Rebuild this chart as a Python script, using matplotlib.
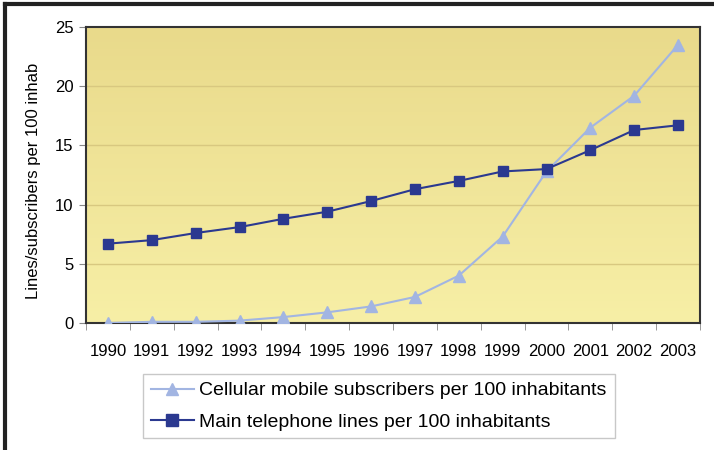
import matplotlib.pyplot as plt
import numpy as np
from matplotlib.colors import LinearSegmentedColormap
from matplotlib.lines import Line2D

plt.rcParams['font.family'] = ['Liberation Sans', 'DejaVu Sans']

years = ['1990', '1991', '1992', '1993', '1994', '1995', '1996',
         '1997', '1998', '1999', '2000', '2001', '2002', '2003']
cellular = [0.0, 0.1, 0.1, 0.2, 0.5, 0.9, 1.4, 2.2, 4.0, 7.3, 12.8, 16.5, 19.2, 23.5]
main_lines = [6.7, 7.0, 7.6, 8.1, 8.8, 9.4, 10.3, 11.3, 12.0, 12.8, 13.0, 14.6, 16.3, 16.7]

fig = plt.figure(figsize=(7.14, 4.5), dpi=100)
ax = fig.add_axes([86 / 714, 1 - 323 / 450, 614 / 714, 296 / 450])

# yellow vertical gradient behind the plot
grad = np.linspace(0, 1, 256).reshape(-1, 1)
cmap = LinearSegmentedColormap.from_list('bg', ['#F7EFA6', '#E9DA8B'])
ax.imshow(grad, aspect='auto', cmap=cmap, origin='lower',
          extent=[0, 1, 0, 1], transform=ax.transAxes, zorder=0)

x = np.arange(len(years))
ax.set_xlim(-0.5, len(years) - 0.5)
ax.set_ylim(0, 25)
for g in [5, 10, 15, 20]:
    ax.axhline(g, color='#D8C880', lw=1, zorder=1)

ax.plot(x, cellular, color='#A2B5E2', lw=1.5, marker='^', ms=8, zorder=3,
        label='Cellular mobile subscribers per 100 inhabitants')
ax.plot(x, main_lines, color='#2B3990', lw=1.5, marker='s', ms=7, zorder=4,
        label='Main telephone lines per 100 inhabitants')

ax.set_xticks(x)
ax.set_xticklabels(years)
ax.set_xticks(np.arange(-0.5, len(years)), minor=True)
ax.tick_params(axis='x', which='major', length=0, pad=15, labelsize=12)
ax.tick_params(axis='x', which='minor', length=5, color='#888888')
ax.set_yticks([0, 5, 10, 15, 20, 25])
ax.tick_params(axis='y', length=5, color='#888888', labelsize=12, pad=4)
ax.set_ylabel('Lines/subscribers per 100 inhab', fontsize=12)
ax.yaxis.set_label_coords(-0.073, 0.48)

for s in ax.spines.values():
    s.set_color('#333333')
    s.set_linewidth(1.5)

handles = [
    Line2D([], [], color='#A2B5E2', lw=1.5, marker='^', ms=9),
    Line2D([], [], color='#2B3990', lw=1.5, marker='s', ms=8),
]
labels = ['Cellular mobile subscribers per 100 inhabitants',
          'Main telephone lines per 100 inhabitants']
leg = fig.legend(handles, labels, loc='upper left',
                 bbox_to_anchor=(143 / 714, 1 - 374 / 450),
                 fontsize=14, frameon=True, fancybox=False,
                 edgecolor='#BBBBBB', handlelength=2.2, handletextpad=0.3,
                 borderpad=0.4, borderaxespad=0, labelspacing=0.7)
leg.get_frame().set_linewidth(1)

# outer frame lines at top and left edge
fig.add_artist(Line2D([5 / 714, 1], [1 - 4 / 450, 1 - 4 / 450],
                      color='#222222', lw=3, transform=fig.transFigure))
fig.add_artist(Line2D([5 / 714, 5 / 714], [0, 1 - 4 / 450],
                      color='#222222', lw=3, transform=fig.transFigure))

fig.savefig('out.png', dpi=100)
